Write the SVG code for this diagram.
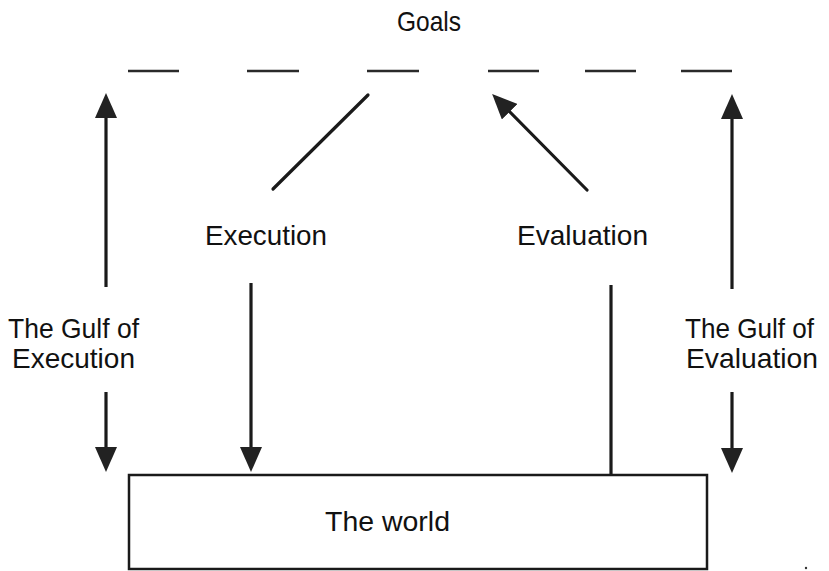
<svg xmlns="http://www.w3.org/2000/svg" width="829" height="571" viewBox="0 0 829 571">
  <style>
    .lbl { font-family: "Liberation Sans", Arial, sans-serif; font-size: 28px; fill: #111; }
    .ln { stroke: #1a1a1a; stroke-width: 3.2; fill: none; }
    .dash { stroke: #2a2a2a; stroke-width: 2.5; }
    .box { stroke: #1a1a1a; stroke-width: 2.5; fill: #fff; }
  </style>
  <defs>
    <marker id="head" markerUnits="userSpaceOnUse" viewBox="0 0 26 22" markerWidth="26" markerHeight="22" refX="1" refY="11" orient="auto">
      <path d="M0,0 L25,11 L0,22 Z" fill="#222"/>
    </marker>
  </defs>

  <rect width="829" height="571" fill="#fff"/>

  <g id="goals">
    <text class="lbl" x="397" y="31" textLength="64" lengthAdjust="spacingAndGlyphs">Goals</text>
    <line class="dash" x1="128" y1="71" x2="179" y2="71"/>
    <line class="dash" x1="247" y1="71" x2="299" y2="71"/>
    <line class="dash" x1="367" y1="71" x2="419" y2="71"/>
    <line class="dash" x1="488" y1="71" x2="539" y2="71"/>
    <line class="dash" x1="585" y1="71" x2="636" y2="71"/>
    <line class="dash" x1="681" y1="71" x2="732" y2="71"/>
  </g>

  <g id="world">
    <rect class="box" x="129" y="475" width="578" height="94"/>
    <text class="lbl" x="325" y="531" textLength="125" lengthAdjust="spacingAndGlyphs">The world</text>
  </g>

  <g id="execution">
    <text class="lbl" x="205" y="245" textLength="122" lengthAdjust="spacingAndGlyphs">Execution</text>
  </g>

  <g id="evaluation">
    <text class="lbl" x="517" y="245" textLength="131" lengthAdjust="spacingAndGlyphs">Evaluation</text>
  </g>

  <g id="gulf-execution">
    <text class="lbl" x="8" y="338" textLength="131" lengthAdjust="spacingAndGlyphs">The Gulf of</text>
    <text class="lbl" x="12" y="368" textLength="123" lengthAdjust="spacingAndGlyphs">Execution</text>
  </g>

  <g id="gulf-evaluation">
    <text class="lbl" x="685" y="338" textLength="129" lengthAdjust="spacingAndGlyphs">The Gulf of</text>
    <text class="lbl" x="686" y="368" textLength="132" lengthAdjust="spacingAndGlyphs">Evaluation</text>
  </g>

  <g id="connectors">
    <!-- gulf of execution: two-headed, split by its label -->
    <line class="ln" x1="106" y1="287" x2="106" y2="117" marker-end="url(#head)"/>
    <line class="ln" x1="106" y1="392" x2="106" y2="448" marker-end="url(#head)"/>
    <!-- gulf of evaluation -->
    <line class="ln" x1="732" y1="289" x2="732" y2="118" marker-end="url(#head)"/>
    <line class="ln" x1="732" y1="392" x2="732" y2="449" marker-end="url(#head)"/>
    <!-- execution: goals down to the world -->
    <line class="ln" x1="368" y1="95" x2="273" y2="189" stroke-linecap="round"/>
    <line class="ln" x1="251" y1="283" x2="251" y2="448" marker-end="url(#head)"/>
    <!-- evaluation: the world back up to goals -->
    <line class="ln" x1="611" y1="285" x2="611" y2="475"/>
    <line class="ln" x1="587" y1="190" x2="509" y2="111" stroke-linecap="round" marker-end="url(#head)"/>
  </g>

  <circle cx="806" cy="568" r="1.2" fill="#333"/>
</svg>
